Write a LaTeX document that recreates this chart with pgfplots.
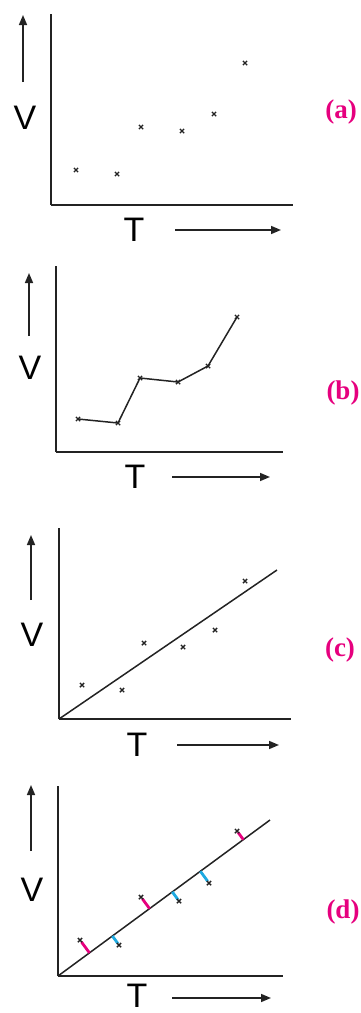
\documentclass[border=0pt]{standalone}
\usepackage{pgfplots}
\pgfplotsset{compat=1.18}
\usepackage{fontspec}
\setmainfont{Liberation Sans}
\newfontfamily\lblfont{Liberation Serif}
\usetikzlibrary{arrows.meta}
\definecolor{axcol}{RGB}{35,35,35}
\definecolor{mag}{RGB}{230,0,126}
\definecolor{cyn}{RGB}{30,170,225}
\pgfplotsset{panel/.style={scale only axis, axis lines*=left,
  axis line style={-, line width=1.7pt, draw=axcol},
  xtick=\empty, ytick=\empty, enlargelimits=false, xmin=0, ymin=0, clip=false},
  pts/.style={only marks, mark=x, mark size=3pt, mark options={line width=1.4pt, draw=axcol}},
  fit/.style={no marks, line width=1.5pt, draw=axcol}}
\begin{document}
\begin{tikzpicture}
\path[use as bounding box] (0pt,0pt) rectangle (361pt,-1013pt);
\tikzset{arr/.style={line width=1.6pt, draw=axcol, -{Triangle[length=10pt,width=8pt]}},
  big/.style={inner sep=0pt, font=\fontsize{34}{34}\selectfont, text=black},
  lab/.style={inner sep=0pt, font=\lblfont\bfseries\fontsize{27}{27}\selectfont, text=mag}}
% ---------- (a)
\begin{axis}[panel, at={(51pt,-205pt)}, anchor=south west, width=242pt, height=191pt, xmax=242, ymax=191]
\addplot[pts] coordinates {(25,35) (66,31) (90,78) (131,74) (163,91) (194,142)};
\end{axis}
\draw[arr] (23pt,-82pt) -- (23pt,-15pt);
\node[big] at (25pt,-118pt) {V};
\node[big] at (134pt,-230pt) {T};
\draw[arr] (175pt,-230pt) -- (281pt,-230pt);
\node[lab] at (341pt,-112pt) {(a)};
% ---------- (b)
\begin{axis}[panel, at={(56pt,-452pt)}, anchor=south west, width=227pt, height=186pt, xmax=227, ymax=186]
\addplot[line width=1.5pt, draw=axcol, mark=x, mark size=3pt, mark options={line width=1.4pt}] coordinates {(22,33) (62,29) (84,74) (122,70) (152,86) (181,135)};
\end{axis}
\draw[arr] (29pt,-336pt) -- (29pt,-273pt);
\node[big] at (30pt,-368pt) {V};
\node[big] at (135pt,-477pt) {T};
\draw[arr] (172pt,-477pt) -- (270pt,-477pt);
\node[lab] at (343pt,-393pt) {(b)};
% ---------- (c)
\begin{axis}[panel, at={(59pt,-719pt)}, anchor=south west, width=232pt, height=191pt, xmax=232, ymax=191]
\addplot[fit] coordinates {(0,0) (218,149)};
\addplot[pts] coordinates {(23,34) (63,29) (85,76) (124,72) (156,89) (186,138)};
\end{axis}
\draw[arr] (31pt,-600pt) -- (31pt,-535pt);
\node[big] at (32pt,-635pt) {V};
\node[big] at (137pt,-745pt) {T};
\draw[arr] (177pt,-745pt) -- (279pt,-745pt);
\node[lab] at (340pt,-650pt) {(c)};
% ---------- (d)
\begin{axis}[panel, at={(58pt,-976pt)}, anchor=south west, width=225pt, height=190pt, xmax=225, ymax=190]
\addplot[fit] coordinates {(0,0) (212,156)};
\addplot[no marks, line width=2.8pt, draw=mag] coordinates {(31.46,23.15) (23.42,34.07)};
\addplot[no marks, line width=2.8pt, draw=cyn] coordinates {(54.38,40.01) (60.01,32.35)};
\addplot[no marks, line width=2.8pt, draw=mag] coordinates {(91.57,67.38) (84.29,77.26)};
\addplot[no marks, line width=2.8pt, draw=cyn] coordinates {(114.32,84.12) (120.0,76.37)};
\addplot[no marks, line width=2.8pt, draw=cyn] coordinates {(142.37,104.76) (149.71,94.76)};
\addplot[no marks, line width=2.8pt, draw=mag] coordinates {(185.37,136.39) (179.96,143.71)};
\addplot[pts] coordinates {(22,36) (61,31) (83,79) (121,75) (151,93) (179,145)};
\end{axis}
\draw[arr] (31pt,-851pt) -- (31pt,-785pt);
\node[big] at (32pt,-890pt) {V};
\node[big] at (137pt,-996pt) {T};
\draw[arr] (172pt,-998pt) -- (271pt,-998pt);
\node[lab] at (343pt,-912pt) {(d)};
\end{tikzpicture}
\end{document}
